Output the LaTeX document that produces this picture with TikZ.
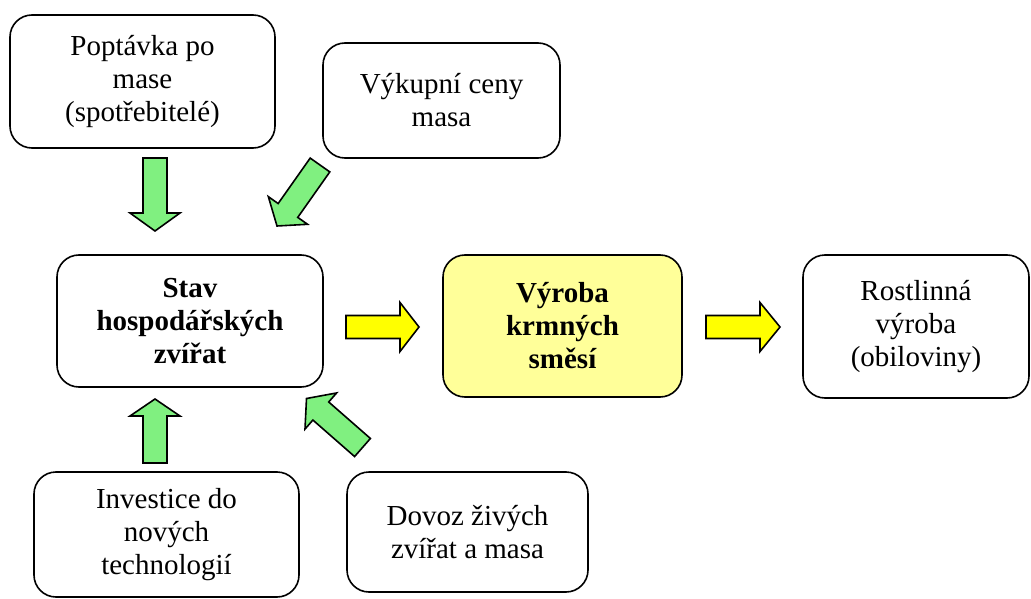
\documentclass[tikz,border=0pt]{standalone}
\usepackage{fontspec}
\setmainfont{Liberation Serif}
\usetikzlibrary{calc}

\definecolor{arrowgreen}{RGB}{128,240,128}
\definecolor{arrowyellow}{RGB}{255,255,0}
\definecolor{boxyellow}{RGB}{255,255,153}

% Block arrow from tail #2 to tip #3: shaft half-width #4, head half-width #5, head length #6
\newcommand{\blockarrow}[6][]{%
  \coordinate (ba-n) at ($(#3)!#6!(#2)$);
  \draw[#1]
    ($(#2)!#4!90:(#3)$) -- ($(ba-n)!#4!-90:(#2)$) -- ($(ba-n)!#5!-90:(#2)$) --
    (#3) --
    ($(ba-n)!#5!90:(#2)$) -- ($(ba-n)!#4!90:(#2)$) -- ($(#2)!#4!-90:(#3)$) -- cycle;
}

\tikzset{
  box/.style={draw=black, line width=1.6pt, rounded corners=22pt, fill=white,
    align=center, inner sep=4pt, font=\fontsize{29}{33}\selectfont},
  keybox/.style={box, fill=boxyellow, font=\fontsize{29}{33}\selectfont\bfseries},
  greenarrow/.style={draw=black, line width=1.6pt, line join=miter, fill=arrowgreen},
  yellowarrow/.style={draw=black, line width=1.6pt, line join=miter, fill=arrowyellow},
}

\begin{document}
\begin{tikzpicture}[x=1pt, y=-1pt]
  \useasboundingbox (0,0) rectangle (1031,599);

  % boxes
  \node[box, minimum width=265pt, minimum height=133pt] (pop) at (142.5,81.5)
    {Poptávka po\\mase\\(spotřebitelé)};
  \node[box, minimum width=237pt, minimum height=115pt] (vyk) at (441.5,100.5)
    {Výkupní ceny\\masa};
  \node[box, font=\fontsize{29}{33}\selectfont\bfseries,
        minimum width=266pt, minimum height=132pt] (stav) at (190,321)
    {Stav\\hospodářských\\zvířat};
  \node[keybox, minimum width=239pt, minimum height=142pt] (vyr) at (562.5,326)
    {Výroba\\krmných\\směsí};
  \node[box, minimum width=226pt, minimum height=143pt] (ros) at (916,326.5)
    {Rostlinná\\výroba\\(obiloviny)};
  \node[box, minimum width=265pt, minimum height=125pt] (inv) at (166.5,534.5)
    {Investice do\\nových\\technologií};
  \node[box, minimum width=241pt, minimum height=120pt] (dov) at (467.5,532)
    {Dovoz živých\\zvířat a masa};

  % arrow end points
  \coordinate (popT) at (155,158);   \coordinate (popH) at (155,231);
  \coordinate (invT) at (155,463);   \coordinate (invH) at (155,399);
  \coordinate (vykT) at (320,165);   \coordinate (vykH) at (277,226);
  \coordinate (dovT) at (362.5,447.5); \coordinate (dovH) at (306.5,398.5);
  \coordinate (stavT) at (346,327);  \coordinate (stavH) at (419,327);
  \coordinate (vyrT) at (706,327);   \coordinate (vyrH) at (780,327);

  % green influence arrows
  \blockarrow[greenarrow]{popT}{popH}{12pt}{25pt}{18pt}
  \blockarrow[greenarrow]{invT}{invH}{12pt}{25pt}{17pt}
  \blockarrow[greenarrow]{vykT}{vykH}{12pt}{24pt}{19pt}
  \blockarrow[greenarrow]{dovT}{dovH}{12pt}{24pt}{19pt}

  % yellow flow arrows
  \blockarrow[yellowarrow]{stavT}{stavH}{11.5pt}{24.5pt}{19pt}
  \blockarrow[yellowarrow]{vyrT}{vyrH}{11.5pt}{24.5pt}{20pt}
\end{tikzpicture}
\end{document}
